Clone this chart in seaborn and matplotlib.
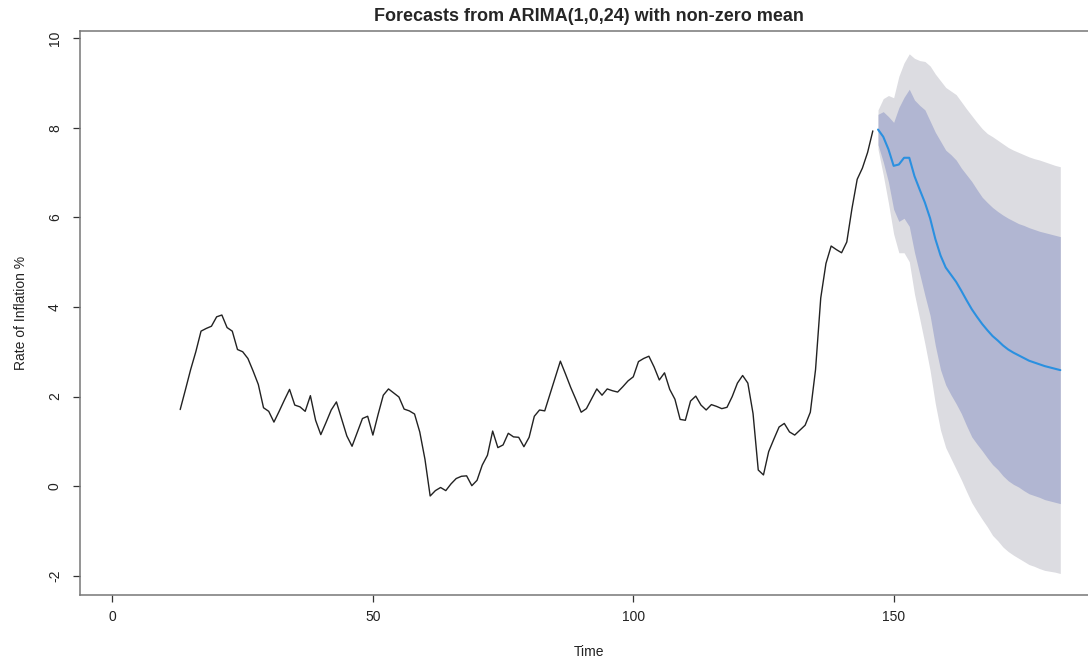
import numpy as np
import pandas as pd
import matplotlib
matplotlib.use("Agg")
import matplotlib.pyplot as plt
import seaborn as sns

# observed inflation series, time 13..146
obs_time = list(range(13, 147))
obs_rate = [1.71, 2.15, 2.60, 3.00, 3.46, 3.52, 3.57, 3.78, 3.82, 3.54,
            3.46, 3.05, 3.00, 2.85, 2.57, 2.27, 1.75, 1.67, 1.43, 1.67,
            1.92, 2.16, 1.81, 1.77, 1.67, 2.02, 1.47, 1.15, 1.42, 1.70,
            1.88, 1.50, 1.12, 0.89, 1.20, 1.51, 1.56, 1.14, 1.60, 2.03,
            2.17, 2.08, 1.99, 1.72, 1.68, 1.61, 1.21, 0.60, -0.22, -0.10,
            -0.03, -0.10, 0.05, 0.17, 0.22, 0.23, 0.01, 0.13, 0.47, 0.69,
            1.23, 0.86, 0.92, 1.18, 1.10, 1.09, 0.88, 1.09, 1.56, 1.70,
            1.68, 2.05, 2.42, 2.79, 2.50, 2.20, 1.93, 1.65, 1.73, 1.95,
            2.17, 2.03, 2.17, 2.13, 2.10, 2.22, 2.35, 2.44, 2.78, 2.85,
            2.90, 2.66, 2.37, 2.53, 2.16, 1.94, 1.49, 1.47, 1.90, 2.01,
            1.81, 1.70, 1.82, 1.78, 1.73, 1.76, 2.00, 2.30, 2.47, 2.30,
            1.62, 0.36, 0.25, 0.77, 1.05, 1.32, 1.40, 1.21, 1.14, 1.25,
            1.36, 1.65, 2.60, 4.20, 4.97, 5.36, 5.28, 5.21, 5.45, 6.20,
            6.85, 7.10, 7.45, 7.93]

# forecast, time 147..182
fc_time = list(range(147, 183))
fc_mean = [7.96, 7.80, 7.52, 7.15, 7.18, 7.33, 7.33, 6.92, 6.62, 6.33,
           5.98, 5.52, 5.15, 4.88, 4.72, 4.56, 4.36, 4.15, 3.95, 3.78,
           3.62, 3.48, 3.35, 3.25, 3.14, 3.05, 2.98, 2.92, 2.86, 2.80,
           2.76, 2.72, 2.68, 2.65, 2.62, 2.59]
hi80 = [8.30, 8.36, 8.25, 8.12, 8.45, 8.68, 8.86, 8.62, 8.50, 8.40,
        8.15, 7.90, 7.70, 7.50, 7.40, 7.28, 7.10, 6.95, 6.80, 6.62,
        6.45, 6.33, 6.22, 6.13, 6.05, 5.98, 5.92, 5.86, 5.82, 5.77,
        5.73, 5.69, 5.66, 5.63, 5.60, 5.57]
lo80 = [7.62, 7.24, 6.79, 6.18, 5.91, 5.98, 5.80, 5.22, 4.74, 4.26,
        3.81, 3.14, 2.60, 2.26, 2.04, 1.84, 1.62, 1.35, 1.10, 0.94,
        0.79, 0.63, 0.48, 0.37, 0.23, 0.12, 0.04, -0.02, -0.10, -0.17,
        -0.21, -0.25, -0.30, -0.33, -0.36, -0.39]
hi95 = [8.40, 8.65, 8.72, 8.67, 9.15, 9.45, 9.65, 9.55, 9.50, 9.48,
        9.38, 9.20, 9.05, 8.90, 8.82, 8.74, 8.58, 8.42, 8.27, 8.12,
        7.98, 7.87, 7.80, 7.72, 7.64, 7.56, 7.50, 7.45, 7.40, 7.35,
        7.31, 7.28, 7.24, 7.20, 7.16, 7.13]
lo95 = [7.52, 6.95, 6.32, 5.63, 5.21, 5.21, 5.01, 4.29, 3.74, 3.18,
        2.58, 1.84, 1.25, 0.86, 0.62, 0.38, 0.14, -0.12, -0.37, -0.56,
        -0.74, -0.91, -1.10, -1.22, -1.36, -1.46, -1.54, -1.61, -1.68, -1.75,
        -1.79, -1.84, -1.88, -1.90, -1.92, -1.95]

x_ticks = [0, 50, 100, 150]
y_ticks = [-2, 0, 2, 4, 6, 8, 10]

obs = pd.DataFrame({"Time": obs_time, "rate": obs_rate})
fc = pd.DataFrame({"Time": fc_time, "mean": fc_mean,
                   "lo80": lo80, "hi80": hi80, "lo95": lo95, "hi95": hi95})

sns.set_style("white")
plt.rcParams['font.family'] = ['Liberation Sans', 'DejaVu Sans']

fig = plt.figure(figsize=(10.88, 6.59), dpi=100)
W, H = 1088, 659
# right edge of the R plot box lies just past the picture's edge
ax = fig.add_axes([80 / W, (H - 595) / H, (1098 - 80) / W, (595 - 31) / H])

# prediction intervals
ax.fill_between(fc["Time"], fc["lo95"], fc["hi95"], color="#dcdce1", lw=0)
ax.fill_between(fc["Time"], fc["lo80"], fc["hi80"], color="#b1b6d2", lw=0)

sns.lineplot(data=obs, x="Time", y="rate", ax=ax, color="#222222", lw=1.0)
sns.lineplot(data=fc, x="Time", y="mean", ax=ax, color="#2a90e0", lw=1.5)

ax.set_xlim(-6.24, 189.24)
ax.set_ylim(-2.43, 10.16)
ax.set_xticks(x_ticks)
ax.set_yticks(y_ticks)
ax.set_yticklabels([str(v) for v in y_ticks], rotation=90, va="center")
ax.tick_params(axis="both", direction="out", length=5, width=0.9,
               color="#333333", labelsize=10, labelcolor="#222222",
               bottom=True, left=True)
ax.tick_params(axis="x", pad=6)
ax.tick_params(axis="y", pad=8)

for s in ax.spines.values():
    s.set_color("#777777")
    s.set_linewidth(1.1)

ax.set_xlabel("Time", fontsize=10, color="#222222", labelpad=15)
ax.set_ylabel("Rate of Inflation %", fontsize=10, color="#222222", labelpad=14)
ax.set_title("Forecasts from ARIMA(1,0,24) with non-zero mean",
             fontsize=13, fontweight="bold", pad=7)

fig.savefig("out.png", dpi=100)
